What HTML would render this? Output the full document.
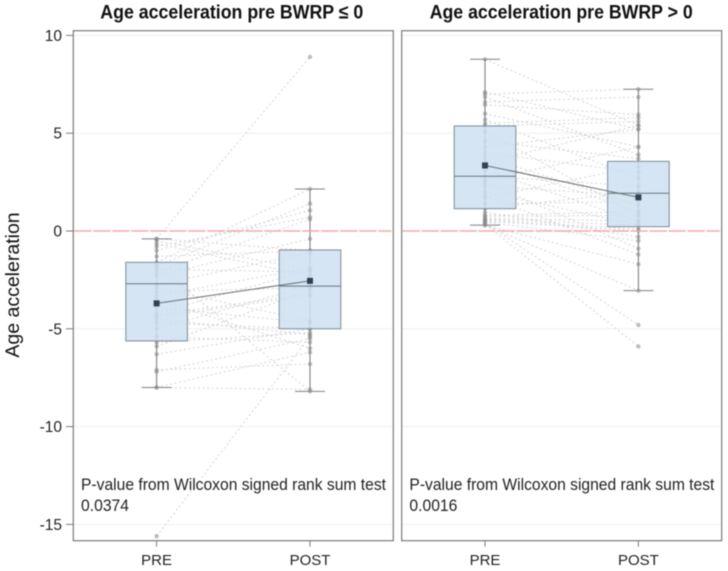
<!DOCTYPE html>
<html>
<head>
<meta charset="utf-8">
<style>
html,body{margin:0;padding:0;background:#fff;width:728px;height:571px;overflow:hidden}
svg{display:block;filter:blur(0.4px)}
text{font-family:"Liberation Sans",sans-serif}
</style>
</head>
<body>
<svg id="chart" width="728" height="571" viewBox="0 0 728 571" xmlns="http://www.w3.org/2000/svg"></svg>
<script>
const categories = ["PRE", "POST"];
const yTicks = [10, 5, 0, -5, -10, -15];
const panelTitles = ["Age acceleration pre BWRP \u2264 0", "Age acceleration pre BWRP > 0"];
const pValues = ["0.0374", "0.0016"];
const pLabel = "P-value from Wilcoxon signed rank sum test";

const leftPre  = [-0.4,-0.4,-0.5,-0.65,-0.8,-1.0,-1.3,-1.6,-1.75,-1.8,-1.95,-2.1,-2.3,-2.75,-2.9,-3.1,-3.3,-3.5,-3.9,-4.2,-4.3,-4.4,-4.5,-4.7,-5.0,-5.4,-5.7,-5.9,-6.3,-7.1,-7.2,-8.0,-8.0,-15.6];
const leftPost = [8.9,-1.0,-2.0,-2.3,0.7,1.05,-1.0,2.15,-8.2,1.4,-2.1,0.6,-0.4,-1.1,-4.6,-2.9,-1.9,-6.0,-4.7,-2.0,-3.2,-3.3,-5.3,-5.0,-2.8,-5.7,-5.2,-3.0,-5.0,-6.8,-5.5,-6.2,-8.1,-5.4];
const leftStats = {
  pre:  {low:-8.0, q1:-5.62, median:-2.7, q3:-1.6, high:-0.4, mean:-3.7},
  post: {low:-8.2, q1:-5.0, median:-2.82, q3:-0.97, high:2.15, mean:-2.55}
};

const rightPre  = [8.78,7.1,7.0,6.85,6.6,6.45,6.0,5.7,5.5,5.37,5.1,4.6,4.3,4.0,3.8,3.6,3.5,3.1,2.8,2.6,2.5,2.3,2.0,1.8,1.7,1.4,1.14,0.95,0.8,0.75,0.65,0.6,0.55,0.5,0.45,0.4,0.35,0.3,0.3];
const rightPost = [5.4,5.2,7.25,3.9,6.85,5.95,4.3,2.7,5.8,5.6,0.8,3.7,5.2,3.0,1.3,1.0,5.4,0.5,2.3,4.3,-0.9,1.8,0.3,-1.2,3.3,1.5,2.0,-0.3,1.0,0.8,0.5,0.3,0.1,0,-0.5,-4.8,-5.9,-3.05,-1.7];
const rightStats = {
  pre:  {low:0.3, q1:1.14, median:2.8, q3:5.37, high:8.78, mean:3.35},
  post: {low:-3.05, q1:0.22, median:1.93, q3:3.56, high:7.25, mean:1.72}
};

const NS = "http://www.w3.org/2000/svg";
const svg = document.getElementById("chart");
function yScale(v){ return 231 - v * 19.56; }

function add(parent, tag, attrs, text){
  const el = document.createElementNS(NS, tag);
  for (const k in attrs) el.setAttribute(k, attrs[k]);
  if (text !== undefined) el.textContent = text;
  parent.appendChild(el);
  return el;
}

function drawPanel(cfg){
  const g = add(svg, "g", {});
  
  
  const xPre = cfg.left + 83.3, xPost = cfg.left + 236.7;
  const xs = [xPre, xPost];
  const L = cfg.left, R = cfg.left + 320, T = 30.7, B = 540.7;

  yTicks.forEach(function(t){
    const grid = add(g, "line", {x1:L, x2:R, y1:yScale(t), y2:yScale(t), stroke:"#f0f0f0", "stroke-width":1});
    
    
  });

  cfg.pre.forEach(function(v, i){
    const link = add(g, "line", {x1:xPre, y1:yScale(v), x2:xPost, y2:yScale(cfg.post[i]), stroke:"#cfcfcf", "stroke-width":0.9, "stroke-dasharray":"2 2.6"});
    
    
  });

  [cfg.stats.pre, cfg.stats.post].forEach(function(s, c){
    const x = xs[c];
    const whisker = add(g, "line", {x1:x, x2:x, y1:yScale(s.high), y2:yScale(s.low), stroke:"#808080", "stroke-width":1.1});
    
    
    [s.high, s.low].forEach(function(w){
      const cap = add(g, "line", {x1:x-15, x2:x+15, y1:yScale(w), y2:yScale(w), stroke:"#808080", "stroke-width":1});
      
      
    });
  });

  [cfg.pre, cfg.post].forEach(function(vals, c){
    vals.forEach(function(v){
      const dot = add(g, "circle", {cx:xs[c], cy:yScale(v), r:2.2, fill:"#8a8a8a", opacity:0.55});
      
      
    });
  });

  [cfg.stats.pre, cfg.stats.post].forEach(function(s, c){
    const x = xs[c];
    const box = add(g, "rect", {x:x-30.8, y:yScale(s.q3), width:61.6, height:yScale(s.q1)-yScale(s.q3), fill:"#cfe1f1", "fill-opacity":0.86, stroke:"#7b8a96", "stroke-width":1});
    
    
    const med = add(g, "line", {x1:x-30.8, x2:x+30.8, y1:yScale(s.median), y2:yScale(s.median), stroke:"#66757f", "stroke-width":1});
    
    
  });

  const ref = add(g, "line", {x1:L+1, x2:R-2, y1:yScale(0), y2:yScale(0), stroke:"#f4a9a9", "stroke-width":1.6, "stroke-dasharray":"17 2"});
  
  

  const meanLine = add(g, "line", {x1:xPre, y1:yScale(cfg.stats.pre.mean), x2:xPost, y2:yScale(cfg.stats.post.mean), stroke:"#6a7178", "stroke-width":1});
  
  
  [cfg.stats.pre.mean, cfg.stats.post.mean].forEach(function(m, c){
    const mk = add(g, "rect", {x:xs[c]-3, y:yScale(m)-3, width:6, height:6, fill:"#2f4256"});
    
    
  });

  const frame = add(g, "rect", {x:L, y:T, width:320, height:B-T, fill:"none", stroke:"#7a7a7a", "stroke-width":1.2});
  
  

  categories.forEach(function(name, c){
    const tk = add(g, "line", {x1:xs[c], x2:xs[c], y1:B, y2:B+6, stroke:"#7a7a7a", "stroke-width":1});
    
    
    const lb = add(g, "text", {x:xs[c], y:565, "text-anchor":"middle", "font-size":15, fill:"#222"}, name);
    
    
  });

  const title = add(g, "text", {x:cfg.left + cfg.titleDx, y:18.5, "font-size":19.5, "font-weight":"bold", fill:"#111", textLength:263, lengthAdjust:"spacingAndGlyphs"}, cfg.title);
  
  

  const p1 = add(g, "text", {x:cfg.left + 7.7, y:490, "font-size":16.5, fill:"#222", textLength:305, lengthAdjust:"spacingAndGlyphs"}, pLabel);
  
  
  const p2 = add(g, "text", {x:cfg.left + 7.7, y:511, "font-size":16.5, fill:"#222", textLength:48, lengthAdjust:"spacingAndGlyphs"}, cfg.pValue);
  
  
}

drawPanel({name:"panel-bwrp-le-0", left:73.3, titleDx:27, title:panelTitles[0], pValue:pValues[0], pre:leftPre, post:leftPost, stats:leftStats});
drawPanel({name:"panel-bwrp-gt-0", left:401.7, titleDx:28, title:panelTitles[1], pValue:pValues[1], pre:rightPre, post:rightPost, stats:rightStats});

yTicks.forEach(function(t){
  const tk = add(svg, "line", {x1:66, x2:73, y1:yScale(t), y2:yScale(t), stroke:"#7a7a7a", "stroke-width":1});
  
  
  const lb = add(svg, "text", {x:62, y:yScale(t)+5.5, "text-anchor":"end", "font-size":15.5, fill:"#222"}, String(t));
  
  
});

const yTitle = add(svg, "text", {x:0, y:0, transform:"translate(19,285) rotate(-90)", "text-anchor":"middle", "font-size":19.5, fill:"#111"}, "Age acceleration");


</script>
</body>
</html>
